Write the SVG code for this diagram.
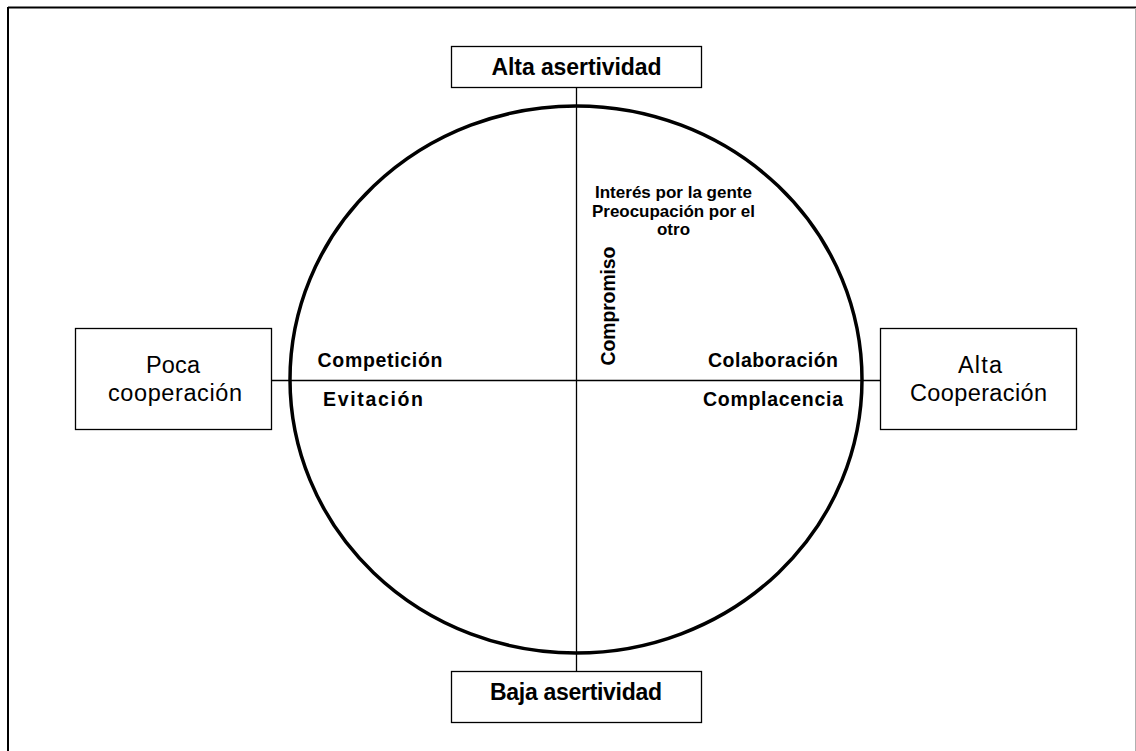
<svg xmlns="http://www.w3.org/2000/svg" width="1136" height="751" viewBox="0 0 1136 751">
  <style>
    .box { fill: #ffffff; stroke: #000000; stroke-width: 1.3; }
    .axis { stroke: #000000; stroke-width: 1.3; fill: none; }
    .ring { fill: none; stroke: #000000; stroke-width: 3.5; }
    .t { font-family: "Liberation Sans", Arial, sans-serif; fill: #000000; text-anchor: middle; }
    .big { font-size: 23px; font-weight: bold; }
    .side { font-size: 23.5px; }
    .mid { font-size: 19.5px; font-weight: bold; }
    .small { font-size: 16.5px; font-weight: bold; }
  </style>

  <rect x="0" y="0" width="1136" height="751" fill="#ffffff"/>

  <!-- page frame -->
  <g id="frame">
    <line x1="8" y1="7.5" x2="1136" y2="7.5" stroke="#000000" stroke-width="2"/>
    <line x1="8" y1="7" x2="8" y2="751" stroke="#000000" stroke-width="2"/>
    <line x1="1135.5" y1="8" x2="1135.5" y2="751" stroke="#b0b0b0" stroke-width="1"/>
  </g>

  <!-- axes -->
  <g id="connectors">
    <line class="axis" x1="576.5" y1="88" x2="576.5" y2="671"/>
    <line class="axis" x1="272" y1="380.5" x2="880" y2="380.5"/>
  </g>

  <g id="circle">
    <ellipse class="ring" cx="576" cy="379.5" rx="286" ry="273.5"/>
  </g>

  <g id="alta-asertividad">
    <rect class="box" x="451.5" y="46.5" width="250" height="41"/>
    <text class="t big" x="576.5" y="75" textLength="170" lengthAdjust="spacing">Alta asertividad</text>
  </g>

  <g id="baja-asertividad">
    <rect class="box" x="451.5" y="671.5" width="250" height="51"/>
    <text class="t big" x="576" y="700" textLength="172" lengthAdjust="spacing">Baja asertividad</text>
  </g>

  <g id="poca-cooperacion">
    <rect class="box" x="75.5" y="328.5" width="196" height="101"/>
    <text class="t side" x="173" y="373" textLength="54" lengthAdjust="spacing">Poca</text>
    <text class="t side" x="175" y="401" textLength="134" lengthAdjust="spacing">cooperación</text>
  </g>

  <g id="alta-cooperacion">
    <rect class="box" x="880.5" y="328.5" width="196" height="101"/>
    <text class="t side" x="980" y="373" textLength="44" lengthAdjust="spacing">Alta</text>
    <text class="t side" x="978.5" y="401" textLength="137" lengthAdjust="spacing">Cooperación</text>
  </g>

  <g id="competicion">
    <text class="t mid" x="380" y="367" textLength="125" lengthAdjust="spacing">Competición</text>
  </g>
  <g id="evitacion">
    <text class="t mid" x="373" y="406" textLength="100" lengthAdjust="spacing">Evitación</text>
  </g>
  <g id="colaboracion">
    <text class="t mid" x="773" y="367" textLength="130" lengthAdjust="spacing">Colaboración</text>
  </g>
  <g id="complacencia">
    <text class="t mid" x="773" y="406" textLength="140" lengthAdjust="spacing">Complacencia</text>
  </g>
  <g id="compromiso">
    <text class="t mid" transform="translate(615 306) rotate(-90)" x="0" y="0" textLength="119" lengthAdjust="spacing">Compromiso</text>
  </g>

  <g id="interes">
    <text class="t small" x="673.5" y="198" textLength="157" lengthAdjust="spacingAndGlyphs">Interés por la gente</text>
    <text class="t small" x="673.5" y="217" textLength="163" lengthAdjust="spacingAndGlyphs">Preocupación por el</text>
    <text class="t small" x="673.5" y="235" textLength="33" lengthAdjust="spacingAndGlyphs">otro</text>
  </g>
</svg>
